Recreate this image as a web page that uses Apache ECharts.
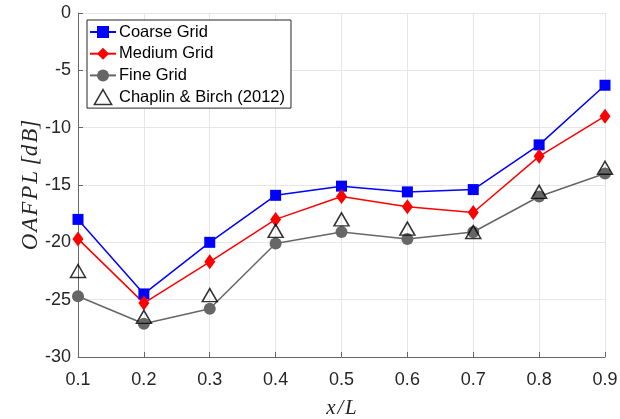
<!DOCTYPE html>
<html>
<head>
<meta charset="utf-8">
<script src="https://cdn.jsdelivr.net/npm/echarts@6/dist/echarts.min.js"></script>
<style>
  html, body { margin: 0; padding: 0; background: #fff; }
  #chart { width: 620px; height: 419px; }
</style>
</head>
<body>
<div id="chart"></div>
<script>
// Streamwise stations along the jet
const xPositions = [0.1, 0.2, 0.3, 0.4, 0.5, 0.6, 0.7, 0.8, 0.9];

// Overall far-field pressure level [dB] for each mesh
const coarseGrid = [-18.0, -24.5, -20.0, -15.9, -15.1, -15.6, -15.4, -11.5, -6.3];
const mediumGrid = [-19.7, -25.3, -21.7, -18.0, -16.0, -16.9, -17.4, -12.5, -9.0];
const fineGrid   = [-24.7, -27.1, -25.8, -20.1, -19.1, -19.7, -19.1, -16.0, -14.0];
// Reference measurements
const chaplinBirch = [-22.5, -26.5, -24.6, -19.0, -18.0, -18.8, -19.1, -15.6, -13.5];

const pairs = ys => xPositions.map((x, i) => [x, ys[i]]);

const axisGray = '#666666';
const textColor = '#262626';
const gridColor = '#e6e6e6';
const sansFont = 'Liberation Sans, Arial, sans-serif';
const mathFont = 'Liberation Serif, DejaVu Serif, serif';
const hair = '\u200A';

const chart = echarts.init(document.getElementById('chart'), null, { renderer: 'canvas' });

chart.setOption({
  animation: false,
  backgroundColor: '#ffffff',
  grid: { left: 78, right: 15, top: 13, bottom: 62, containLabel: false, outerBoundsMode: 'none' },
  legend: {
    left: 87, top: 20,
    orient: 'vertical',
    padding: [3, 6, 2, 2],
    itemGap: 3.7,
    itemWidth: 26,
    itemHeight: 15,
    backgroundColor: '#ffffff',
    borderColor: '#262626',
    borderWidth: 1,
    borderRadius: 0,
    textStyle: { fontFamily: sansFont, fontSize: 16.5, lineHeight: 18, color: '#000', padding: [0, 0, 0, -2] },
    data: [
      'Coarse Grid',
      'Medium Grid',
      'Fine Grid',
      {
        name: 'Chaplin & Birch (2012)',
        icon: 'path://M7.5,0 L15,13 L0,13 Z',
        itemStyle: { color: 'rgba(255,255,255,0)', borderColor: '#000000', borderWidth: 1.5 }
      }
    ]
  },
  xAxis: {
    type: 'value',
    min: 0.1, max: 0.9, interval: 0.1,
    name: 'x' + hair + '/' + hair + 'L',
    nameLocation: 'middle',
    nameGap: 41,
    nameMoveOverlap: false,
    nameTextStyle: { fontFamily: mathFont, fontStyle: 'italic', fontSize: 21, color: textColor },
    axisLine: { show: true, onZero: false, lineStyle: { color: axisGray, width: 1 } },
    axisTick: { show: true, inside: true, length: 5, lineStyle: { color: axisGray } },
    axisLabel: { margin: 14, fontFamily: sansFont, fontSize: 18, color: textColor,
      formatter: v => v.toFixed(1) },
    splitLine: { show: true, lineStyle: { color: gridColor, width: 1 } }
  },
  yAxis: {
    type: 'value',
    min: -30, max: 0, interval: 5,
    name: ['O', 'A', 'F', 'P', 'L'].join(hair) + ' [d' + hair + 'B]',
    nameLocation: 'middle',
    nameGap: 36,
    nameMoveOverlap: false,
    nameRotate: 90,
    nameTextStyle: { fontFamily: mathFont, fontStyle: 'italic', fontSize: 23, color: textColor },
    axisLine: { show: true, onZero: false, lineStyle: { color: axisGray, width: 1 } },
    axisTick: { show: true, inside: true, length: 5, lineStyle: { color: axisGray } },
    axisLabel: { margin: 7, fontFamily: sansFont, fontSize: 18, color: textColor },
    splitLine: { show: true, lineStyle: { color: gridColor, width: 1 } }
  },
  series: [
    {
      name: 'Coarse Grid', type: 'line', data: pairs(coarseGrid),
      symbol: 'rect', symbolSize: 11, showAllSymbol: true,
      itemStyle: { color: '#0000ff' },
      lineStyle: { color: '#0000ff', width: 1.5 },
      z: 3
    },
    {
      name: 'Medium Grid', type: 'line', data: pairs(mediumGrid),
      symbol: 'diamond', symbolSize: [11, 15], showAllSymbol: true,
      itemStyle: { color: '#ff0000' },
      lineStyle: { color: '#ff0000', width: 1.5 },
      z: 3
    },
    {
      name: 'Fine Grid', type: 'line', data: pairs(fineGrid),
      symbol: 'circle', symbolSize: 12, showAllSymbol: true,
      itemStyle: { color: '#666666' },
      lineStyle: { color: '#666666', width: 1.5 },
      z: 3
    },
    {
      name: 'Chaplin & Birch (2012)', type: 'scatter', data: pairs(chaplinBirch),
      symbol: 'triangle', symbolSize: [15, 13],
      itemStyle: { color: 'rgba(255,255,255,0)', borderColor: '#000000', borderWidth: 1.5 },
      z: 4
    }
  ]
});
</script>
</body>
</html>
